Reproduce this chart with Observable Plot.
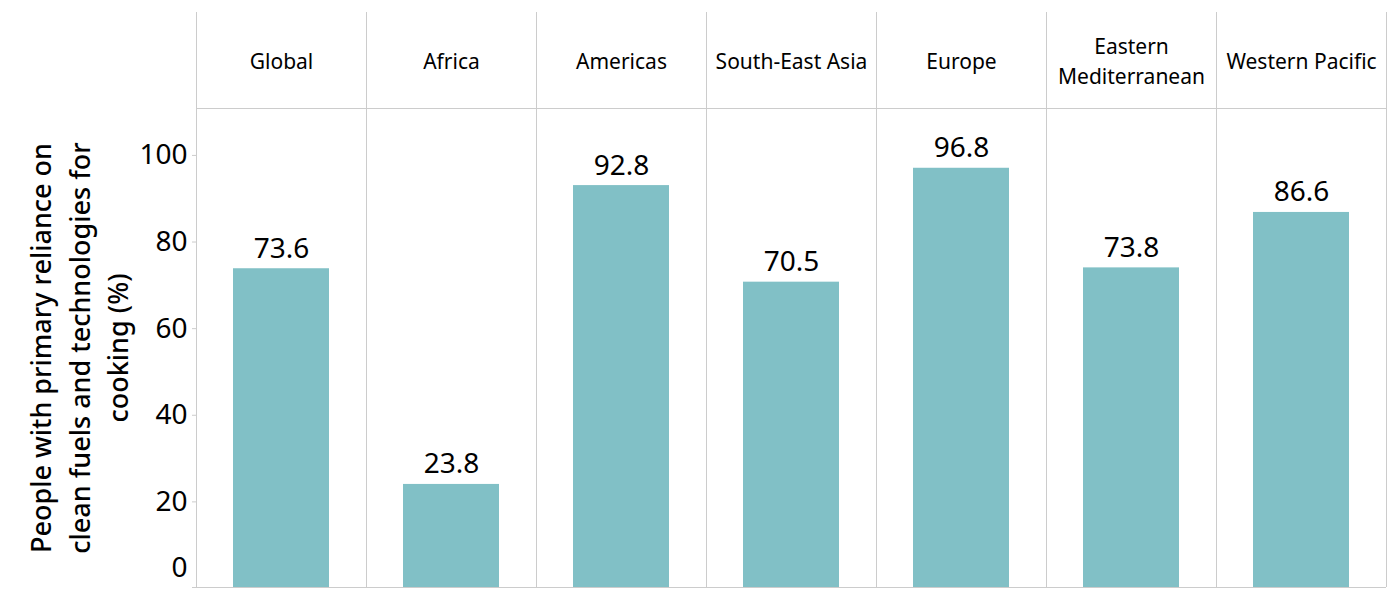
<!DOCTYPE html>
<html><head><meta charset="utf-8">
<script src="https://cdn.jsdelivr.net/npm/d3@7"></script>
<script src="https://cdn.jsdelivr.net/npm/@observablehq/plot@0.6"></script>
<style>body{margin:0;background:#fff}</style>
</head><body><div id="chart"></div>
<script>
const regions = ["Global","Africa","Americas","South-East Asia","Europe","Eastern Mediterranean","Western Pacific"];
const headerLabels = ["Global","Africa","Americas","South-East Asia","Europe","Eastern\nMediterranean","Western Pacific"];
const values = [73.6,23.8,92.8,70.5,96.8,73.8,86.6];
const yTicks = [0,20,40,60,80,100];
const yTitle = "People with primary reliance on\nclean fuels and technologies for\ncooking (%)";

const data = regions.map((r,i)=>({region:r, header: headerLabels[i], value: values[i]}));
const W=1400,H=600, mL=196, mR=14, mT=108, mB=13;
const bw = (W-mL-mR)/regions.length;
const yMax = 110.6;
const grid = "#cccccc";
const font = "'Noto Sans', sans-serif";

const chart = Plot.plot({
  width: W, height: H, marginLeft: mL, marginRight: mR, marginTop: mT, marginBottom: mB,
  style: {fontFamily: font, background: "#fff", color: "#000"},
  x: {type: "band", domain: regions, padding: 0, axis: null},
  y: {domain: [0, yMax], axis: null},
  marks: [
    Plot.barY(data, {x: "region", y: "value", fill: "#81c0c6", insetLeft: 37, insetRight: 37}),
    Plot.ruleX(regions, {x: d=>d, dx: -bw/2, stroke: grid, insetTop: -(mT-12)}),
    Plot.ruleX([regions[regions.length-1]], {x: d=>d, dx: bw/2, stroke: grid, insetTop: -(mT-12)}),
    Plot.ruleY([0], {stroke: grid, insetLeft: -4}),
    Plot.ruleY([yMax], {stroke: grid}),
    Plot.axisY(yTicks.filter(t=>t>0), {tickSize: 4, stroke: grid, tickPadding: 5, fontSize: 28, fill: "#000", label: null, dy: 1}),
    Plot.axisY([0], {tickSize: 0, tickPadding: 9, fontSize: 28, fill: "#000", label: null, dy: -19}),
    Plot.text(data, {x: "region", y: "value", text: d=>d.value.toFixed(1), dy: -11, lineAnchor: "bottom", fontSize: 28, fill: "#000"}),
    Plot.text(data, {x: "region", text: "header", frameAnchor: "top", dy: -49, lineAnchor: "middle", fontSize: 21, lineHeight: 1.45, fill: "#000"}),
    Plot.text([yTitle], {text: d=>d, frameAnchor: "left", rotate: -90, dx: -119, textAnchor: "middle", lineAnchor: "middle", fontSize: 27, fontWeight: 500, lineHeight: 1.42, fill: "#000"})
  ]
});
document.getElementById("chart").appendChild(chart);
</script>
</body></html>
